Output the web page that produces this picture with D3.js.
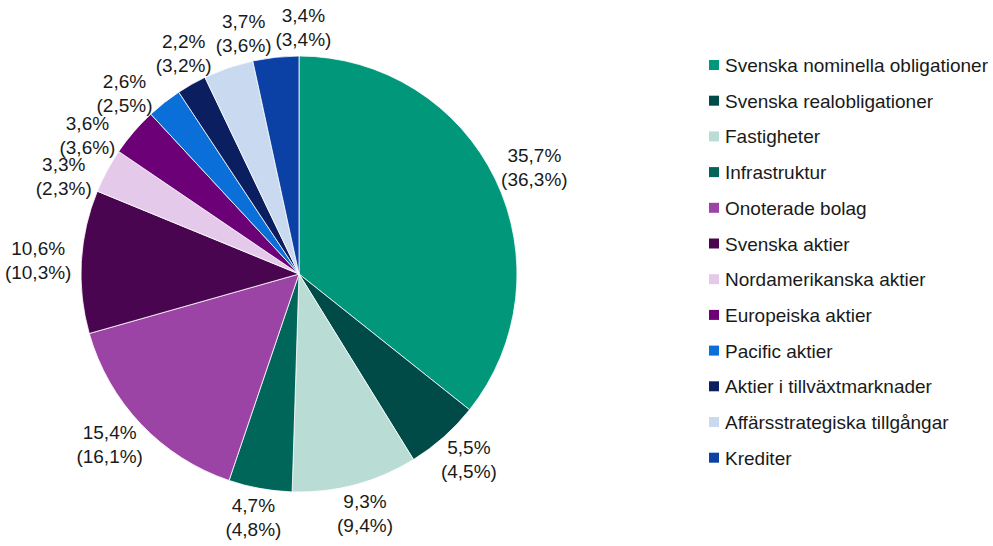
<!DOCTYPE html>
<html>
<head>
<meta charset="utf-8">
<script src="https://cdn.jsdelivr.net/npm/d3@7"></script>
<style>
  body { margin: 0; background: #fff; }
  svg { font-family: "Liberation Sans", Arial, sans-serif; }
</style>
</head>
<body>
<svg id="chart" width="993" height="546"></svg>
<script>
// categories, current share, previous share (in parentheses)
const categories = [
  "Svenska nominella obligationer", "Svenska realobligationer", "Fastigheter",
  "Infrastruktur", "Onoterade bolag", "Svenska aktier", "Nordamerikanska aktier",
  "Europeiska aktier", "Pacific aktier", "Aktier i tillväxtmarknader",
  "Affärsstrategiska tillgångar", "Krediter"
];
const shares = [35.7, 5.5, 9.3, 4.7, 15.4, 10.6, 3.3, 3.6, 2.6, 2.2, 3.7, 3.4];
const prevShares = [36.3, 4.5, 9.4, 4.8, 16.1, 10.3, 2.3, 3.6, 2.5, 3.2, 3.6, 3.4];
const colors = [
  "#00977a", "#004a47", "#b9dcd4", "#00665a", "#9b44a6", "#4a0550",
  "#e4c9ea", "#6b0077", "#0a6fd8", "#0b1f60", "#c9d9ef", "#0b40a4"
];

const data = categories.map((c, i) => ({ name: c, v: shares[i], prev: prevShares[i], color: colors[i] }));

const width = 993, height = 546;
const svg = d3.select("#chart");
const cx = 299, cy = 274, r = 218;
const fmt = v => v.toFixed(1).replace(".", ",") + "%";

const pie = d3.pie().sort(null).value(d => d.v);
const arc = d3.arc().innerRadius(0).outerRadius(r);
const arcs = pie(data);

const g = svg.append("g").attr("transform", `translate(${cx},${cy})`);

g.selectAll("path")
  .data(arcs)
  .join("path")
  .attr("d", arc)
  .attr("fill", d => d.data.color)
  .attr("stroke", "#fff")
  .attr("stroke-width", 0.8);

// labels: outside end, box pushed outwards from the mid angle
const gap = 10, fontSize = 19, lineH = 24;
const labels = g.append("g")
  .selectAll("text")
  .data(arcs)
  .join("text")
  .attr("font-size", fontSize)
  .attr("fill", "#1a1a1a")
  .attr("text-anchor", "middle");

labels.append("tspan").attr("x", 0).attr("dy", 0).text(d => fmt(d.data.v));
labels.append("tspan").attr("x", 0).attr("dy", lineH).text(d => "(" + fmt(d.data.prev) + ")");

const boxW = labels.nodes().map(n =>
  d3.max(d3.select(n).selectAll("tspan").nodes(), t => t.getComputedTextLength()));
const boxH = lineH + 0.75 * fontSize;
const angles = arcs.map(d => (d.startAngle + d.endAngle) / 2);

function labelPos(i) {
  const a = angles[i];
  const sx = Math.sin(a), sy = -Math.cos(a);
  const px = (r + gap) * sx + sx * boxW[i] / 2;
  let py = (r + gap) * sy + sy * boxH / 2;
  // keep the block inside the picture
  py = Math.max(-cy + boxH / 2 + 3, Math.min(height - cy - boxH / 2 - 3, py));
  return [px, py];
}

// nudge neighbours apart round the pie until no two boxes overlap
const pad = 3;
for (let it = 0; it < 400; it++) {
  let moved = false;
  for (let i = 0; i < arcs.length; i++) {
    const j = (i + 1) % arcs.length;
    const [xi, yi] = labelPos(i), [xj, yj] = labelPos(j);
    const ox = (boxW[i] + boxW[j]) / 2 + pad - Math.abs(xi - xj);
    const oy = boxH + pad - Math.abs(yi - yj);
    if (ox > 0 && oy > 0) {
      angles[i] -= 0.004;
      angles[j] += 0.004;
      moved = true;
    }
  }
  if (!moved) break;
}

labels.attr("transform", (d, i) => {
  const [px, py] = labelPos(i);
  return `translate(${px},${py - lineH / 2 + 0.36 * fontSize})`;
});

// legend
const legend = svg.append("g").attr("transform", "translate(709,65)");
const rowH = 35.7;
const item = legend.selectAll("g")
  .data(data)
  .join("g")
  .attr("transform", (d, i) => `translate(0,${i * rowH})`);

item.append("rect")
  .attr("x", 0).attr("y", -5)
  .attr("width", 10).attr("height", 10)
  .attr("fill", d => d.color);

item.append("text")
  .attr("x", 16)
  .attr("y", 7)
  .attr("font-size", fontSize)
  .attr("fill", "#1a1a1a")
  .text(d => d.name);
</script>
</body>
</html>
